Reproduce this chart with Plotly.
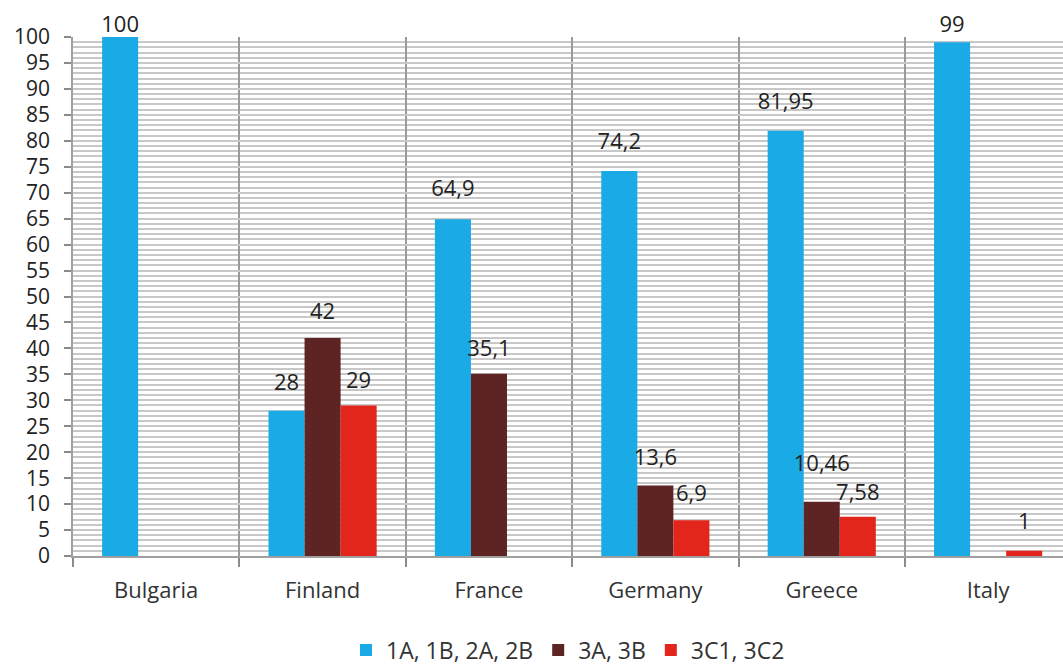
import plotly.graph_objects as go

countries = ["Bulgaria", "Finland", "France", "Germany", "Greece", "Italy"]
series_names = ["1A, 1B, 2A, 2B", "3A, 3B", "3C1, 3C2"]
vals_1 = [100, 28, 64.9, 74.2, 81.95, 99]
vals_3ab = [None, 42, 35.1, 13.6, 10.46, None]
vals_3c = [None, 29, None, 6.9, 7.58, 1]
colors = ["#1aaae6", "#5e2424", "#e3261b"]

# style: invisible marker size controlling how far each value label sits above its bar
label_lift = [
    [0, 22, 26, 24, 24, 6],
    [20, 20, 18, 22, 38, 20],
    [20, 18, 20, 20, 16, 24],
]

def fmt(v):
    if v is None:
        return ""
    return ("%g" % v).replace(".", ",")

fig = go.Figure()
all_vals = [vals_1, vals_3ab, vals_3c]
for i, (name, vals, col) in enumerate(zip(series_names, all_vals, colors)):
    fig.add_trace(go.Bar(
        x=countries, y=vals, name=name, offsetgroup=str(i),
        marker=dict(color=col, line=dict(width=0)),
    ))
for i, vals in enumerate(all_vals):
    fig.add_trace(go.Scatter(
        x=countries, y=vals, offsetgroup=str(i), mode="markers+text",
        text=[fmt(v) for v in vals], textposition="top center",
        marker=dict(size=label_lift[i], color="rgba(0,0,0,0)", line=dict(width=0)),
        textfont=dict(size=22, color="#222222"),
        showlegend=False, hoverinfo="skip", cliponaxis=False,
    ))

fig.update_layout(
    width=1063, height=666,
    barmode="group", bargap=0.35, bargroupgap=0,
    scattermode="group", scattergap=0.35,
    plot_bgcolor="white", paper_bgcolor="white",
    font=dict(family="Open Sans, Noto Sans, sans-serif", size=20, color="#222222"),
    margin=dict(l=73, r=0, t=37, b=110, autoexpand=False),
    legend=dict(orientation="h", x=0.5, xanchor="center", yref="container",
                y=0.024, yanchor="middle", font=dict(size=23, color="#333333"),
                traceorder="normal", itemwidth=30),
    showlegend=True,
)
fig.update_xaxes(
    range=[-0.5, 5.45], tickson="boundaries", showgrid=True, gridcolor="#9a9a9a", gridwidth=2,
    ticks="outside", ticklen=9, tickcolor="#8a8a8a", tickwidth=1.5, showline=True,
    linecolor="#a0a0a0", linewidth=1.5, ticklabelstandoff=14,
    tickfont=dict(size=22, color="#333333"), automargin=False,
)
fig.update_yaxes(
    range=[0, 100], dtick=5, showgrid=True, gridcolor="#c8c8c8", gridwidth=1.8,
    minor=dict(dtick=1, showgrid=True, gridcolor="#c8c8c8", gridwidth=1.8),
    ticks="outside", ticklen=7, tickcolor="#8a8a8a", tickwidth=1.5, showline=True,
    linecolor="#a0a0a0", linewidth=1.5, ticklabelstandoff=10,
    tickfont=dict(size=21, color="#222222"), zeroline=False, automargin=False,
)

fig.write_html("out.html", config={"displayModeBar": False},
               post_script="document.body.style.margin='0';document.body.style.overflow='hidden';")
